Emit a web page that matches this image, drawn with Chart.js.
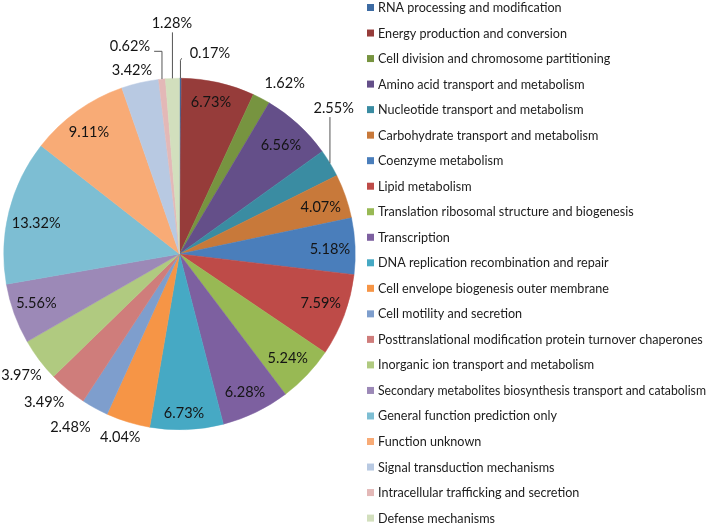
<!DOCTYPE html>
<html>
<head>
<meta charset="utf-8">
<script src="https://cdn.jsdelivr.net/npm/chart.js@4"></script>
<style>
  html, body { margin: 0; padding: 0; background: #fff; }
  #wrap { width: 708px; height: 525px; }
</style>
</head>
<body>
<div id="wrap"><canvas id="cog-pie" width="708" height="525"></canvas></div>
<script>
const categories = [
  'RNA processing and modification',
  'Energy production and conversion',
  'Cell division and chromosome partitioning',
  'Amino acid transport and metabolism',
  'Nucleotide transport and metabolism',
  'Carbohydrate transport and metabolism',
  'Coenzyme metabolism',
  'Lipid metabolism',
  'Translation ribosomal structure and biogenesis',
  'Transcription',
  'DNA replication recombination and repair',
  'Cell envelope biogenesis outer membrane',
  'Cell motility and secretion',
  'Posttranslational modification protein turnover chaperones',
  'Inorganic ion transport and metabolism',
  'Secondary metabolites biosynthesis transport and catabolism',
  'General function prediction only',
  'Function unknown',
  'Signal transduction mechanisms',
  'Intracellular trafficking and secretion',
  'Defense mechanisms'
];

const percents = [
  0.17, 6.73, 1.62, 6.56, 2.55, 4.07, 5.18, 7.59, 5.24, 6.28, 6.73,
  4.04, 2.48, 3.49, 3.97, 5.56, 13.32, 9.11, 3.42, 0.62, 1.28
];

const colors = [
  '#3d6ba3', '#963c3a', '#779440', '#644f89', '#3a8ca2', '#c8793a',
  '#4a7ebb', '#be4b48', '#98b954', '#7d60a0', '#46a9c4', '#f69546',
  '#7e9ecd', '#cf7d7b', '#b0ca80', '#9c89b7', '#7dbed3', '#f8ab76',
  '#b8c9e2', '#e3b8b7', '#d2dfbd'
];

// label placement: [radius factor, angle shift in degrees, leader line]
const labelPlace = [
  [1.155, 8.3, 'upRight'],
  [0.88, -1.0, null],
  [1.14, 3.9, null],
  [0.846, 0.5, null],
  [1.208, -12.3, 'up'],
  [0.847, 0.8, null],
  [0.856, 0.7, null],
  [0.851, -1.3, null],
  [0.854, 0.3, null],
  [0.868, 0.3, null],
  [0.904, 0.7, null],
  [1.093, 0.9, null],
  [1.163, 3.5, null],
  [1.144, 2.8, null],
  [1.133, -0.4, null],
  [0.861, 1.0, null],
  [0.834, -1.9, null],
  [0.863, -1.1, null],
  [1.08, -1.5, null],
  [1.215, -7.7, 'upLeft'],
  [1.313, 0.4, 'up']
];

const LABEL_FONT = '15px Lato, "Open Sans", sans-serif';
const LEGEND_FONT = '14px Lato, "Open Sans", sans-serif';
const SQUEEZE = 0.9; // Lato runs a bit wider than the original font

const sliceLabels = {
  id: 'sliceLabels',
  afterDatasetsDraw(chart) {
    const ctx = chart.ctx;
    const arcs = chart.getDatasetMeta(0).data;
    ctx.save();
    ctx.font = LABEL_FONT;
    ctx.textAlign = 'center';
    ctx.textBaseline = 'middle';
    arcs.forEach((arc, i) => {
      const p = arc.getProps(['x', 'y', 'startAngle', 'endAngle', 'outerRadius'], true);
      const mid = (p.startAngle + p.endAngle) / 2;
      const place = labelPlace[i];
      const a = mid + place[1] * Math.PI / 180;
      const lx = p.x + Math.cos(a) * p.outerRadius * place[0];
      const ly = p.y + Math.sin(a) * p.outerRadius * place[0];
      const txt = percents[i].toFixed(2) + '%';
      const w = ctx.measureText(txt).width * 0.97;

      if (place[2]) {
        const ex = p.x + Math.cos(mid) * p.outerRadius;
        const ey = p.y + Math.sin(mid) * p.outerRadius;
        ctx.strokeStyle = '#555';
        ctx.lineWidth = 1;
        ctx.beginPath();
        ctx.moveTo(ex, ey);
        if (place[2] === 'up') {
          ctx.lineTo(ex, ly + 9);
        } else if (place[2] === 'upRight') {
          ctx.lineTo(ex, ly + 7);
          ctx.lineTo(lx - w / 2 - 8, ly + 5);
        } else {
          ctx.lineTo(ex, ly + 5);
          ctx.lineTo(lx + w / 2 + 4, ly + 5);
        }
        ctx.stroke();
      }
      ctx.fillStyle = '#141414';
      ctx.fillText(txt, lx, ly, w);
    });
    ctx.restore();
  }
};

const sideLegend = {
  id: 'sideLegend',
  afterDraw(chart) {
    const ctx = chart.ctx;
    ctx.save();
    ctx.font = LEGEND_FONT;
    ctx.textBaseline = 'middle';
    ctx.textAlign = 'left';
    chart.data.labels.forEach((name, i) => {
      const y = 7.5 + i * 25.53;
      ctx.fillStyle = colors[i];
      ctx.fillRect(367, y - 3.5, 7, 7);
      ctx.fillStyle = '#1c1c1c';
      const w = Math.min(ctx.measureText(name).width * SQUEEZE, 328);
      ctx.fillText(name, 378, y, w);
    });
    ctx.restore();
  }
};

new Chart(document.getElementById('cog-pie').getContext('2d'), {
  type: 'pie',
  data: {
    labels: categories,
    datasets: [{
      data: percents,
      backgroundColor: colors,
      borderColor: colors,
      borderWidth: 0.5
    }]
  },
  options: {
    responsive: false,
    animation: false,
    devicePixelRatio: 1,
    layout: {
      padding: { left: 3, top: 78, right: 352, bottom: 95 }
    },
    plugins: {
      legend: { display: false },
      tooltip: { enabled: false }
    }
  },
  plugins: [sliceLabels, sideLegend]
});
</script>
</body>
</html>
